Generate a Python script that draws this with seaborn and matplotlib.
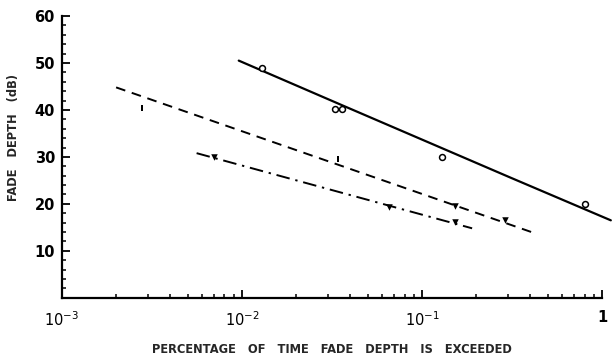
import numpy as np
import matplotlib
matplotlib.use("Agg")
import matplotlib.pyplot as plt
import matplotlib.ticker as mticker
import seaborn as sns

# ---------------------------------------------------------------------------
# Dati
# ---------------------------------------------------------------------------

# curva continua (cerchi aperti)
linea_a_x = [0.0096, 0.036, 0.31, 1.12]
linea_a_y = [50.5, 41.0, 25.6, 16.5]
punti_a_x = [0.013, 0.033, 0.036, 0.13, 0.80]
punti_a_y = [49.0, 40.3, 40.3, 30.0, 20.0]

# curva tratteggiata
linea_b_x = [0.0020, 0.435]
linea_b_y = [44.8, 13.6]
punti_b_x = [0.0028, 0.034]
punti_b_y = [40.5, 29.5]
tri_b_x = [0.152, 0.29]
tri_b_y = [19.5, 16.6]

# curva tratto-punto
linea_c_x = [0.0056, 0.19]
linea_c_y = [30.8, 14.8]
tri_c_x = [0.0070, 0.066, 0.152]
tri_c_y = [29.9, 19.4, 16.2]

x_ticks = [1e-3, 1e-2, 1e-1, 1]
x_labels = ["$10^{-3}$", "$10^{-2}$", "$10^{-1}$", "1"]
y_ticks = [10, 20, 30, 40, 50, 60]

# ---------------------------------------------------------------------------
# Grafico
# ---------------------------------------------------------------------------

sns.set_style("white")
plt.rcParams["font.family"] = ["DejaVu Sans"]

fig = plt.figure(figsize=(6.13, 3.55), dpi=100)
ax = fig.add_axes([0.101, 0.161, 0.881, 0.794])

sns.lineplot(x=linea_a_x, y=linea_a_y, color="black", lw=1.6, ax=ax)
sns.lineplot(x=linea_b_x, y=linea_b_y, color="black", lw=1.4, ax=ax)
sns.lineplot(x=linea_c_x, y=linea_c_y, color="black", lw=1.4, ax=ax)
ax.lines[1].set_dashes([5, 3.5])
ax.lines[2].set_dashes([7, 3, 1.2, 3])
for ln in ax.lines:
    ln.set_clip_on(False)

sns.scatterplot(x=punti_a_x, y=punti_a_y, marker="o", s=18, facecolor="white",
                edgecolor="black", linewidth=1.1, ax=ax, zorder=3)
sns.scatterplot(x=punti_b_x, y=punti_b_y, marker=r"$\mathbf{I}$", s=20,
                color="black", linewidth=0, ax=ax, zorder=3)
sns.scatterplot(x=tri_b_x + tri_c_x, y=tri_b_y + tri_c_y, marker="v", s=22,
                color="black", linewidth=0, ax=ax, zorder=3)

ax.set_xscale("log")
ax.set_xlim(1e-3, 1)
ax.set_ylim(0, 60)
ax.set_xticks(x_ticks)
ax.set_xticklabels(x_labels)
ax.xaxis.set_minor_locator(mticker.LogLocator(base=10, subs=np.arange(2, 10)))
ax.xaxis.set_minor_formatter(mticker.NullFormatter())
ax.set_yticks(y_ticks)
ax.yaxis.set_minor_locator(mticker.MultipleLocator(2))

ax.tick_params(axis="both", which="both", bottom=True, left=True,
               top=False, right=False, direction="in", colors="black")
ax.tick_params(axis="both", which="major", length=6, width=1.3, labelsize=10.5)
ax.tick_params(axis="both", which="minor", length=3, width=1.1)
ax.tick_params(axis="x", which="major", pad=9)
ax.tick_params(axis="y", which="major", pad=5)
for lab in ax.get_xticklabels() + ax.get_yticklabels():
    lab.set_fontweight("semibold")

sns.despine(ax=ax)
for sp in ("left", "bottom"):
    ax.spines[sp].set_linewidth(1.6)
    ax.spines[sp].set_color("black")

ax.set_xlabel("PERCENTAGE   OF   TIME   FADE   DEPTH   IS   EXCEEDED",
              fontsize=8.3, fontweight="bold", labelpad=10)
ax.set_ylabel("FADE   DEPTH   (dB)", fontsize=8.3, fontweight="bold")
ax.yaxis.set_label_coords(-0.078, 0.57)

fig.savefig("out.png", dpi=100)
